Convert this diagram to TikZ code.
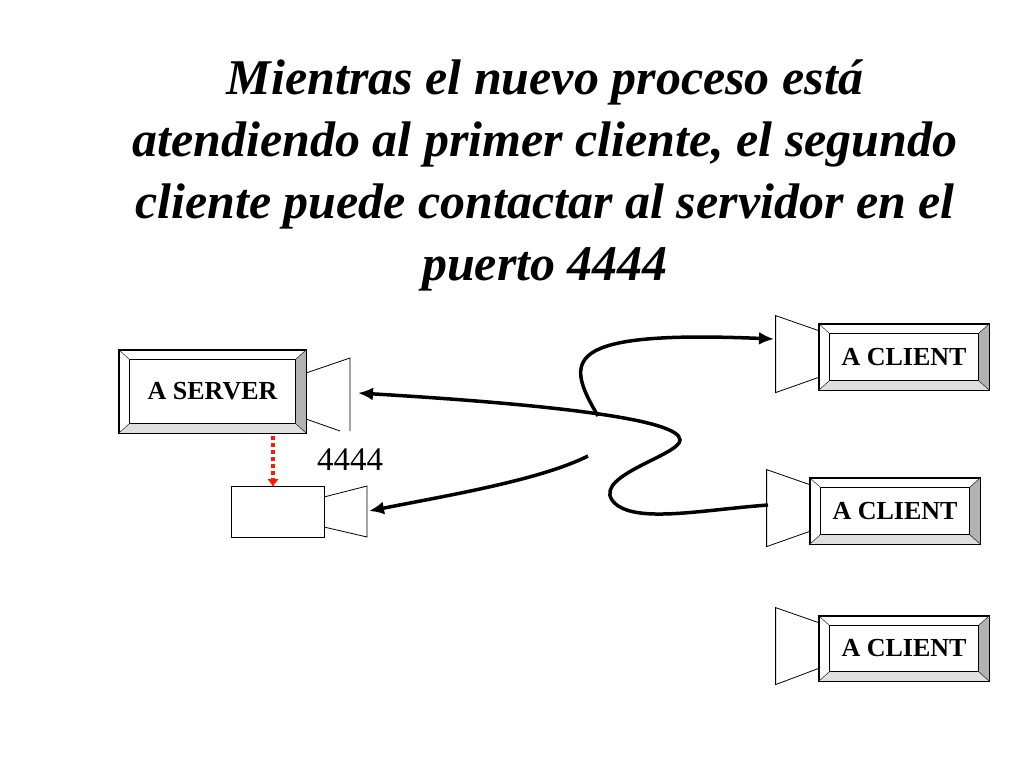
\documentclass[tikz,border=0pt]{standalone}
\usepackage{fontspec}
\setmainfont{Liberation Serif}
\usetikzlibrary{positioning,arrows.meta}
\tikzset{
  btn/.style={draw, thick, minimum width=170pt, minimum height=66pt, inner sep=0pt},
  btnfont/.style={font=\bfseries\fontsize{26}{30}\selectfont},
  wire/.style={line width=3.5pt, -{Latex[length=15pt,width=13pt]}},
}
% bevelled button: #1 name, #2 text, #3 centre, #4 width, #5 height
\newcommand{\bevelbox}[5]{
  \node[btn, minimum width=#4pt, minimum height=#5pt] (#1) at (#3) {};
  \fill[gray!60] (#1.south west) -- (#1.south east) -- (#1.north east)
     -- ([xshift=-11pt,yshift=-10pt]#1.north east) -- ([xshift=-11pt,yshift=10pt]#1.south east)
     -- ([xshift=11pt,yshift=10pt]#1.south west) -- cycle;
  \fill[gray!25] (#1.south west) -- (#1.south east) -- ([xshift=-11pt,yshift=10pt]#1.south east)
     -- ([xshift=11pt,yshift=10pt]#1.south west) -- cycle;
  \draw[thick] (#1.south west) rectangle (#1.north east);
  \draw ([xshift=11pt,yshift=10pt]#1.south west) rectangle ([xshift=-11pt,yshift=-10pt]#1.north east);
  \foreach \a/\b in {south west/11pt,north east/-11pt}
    \draw (#1.\a) -- ++(\b,\b*10/11);
  \draw (#1.north west) -- ++(11pt,-10pt) (#1.south east) -- ++(-11pt,10pt);
  \node[btnfont] at (#1) {#2};
}
\begin{document}
\begin{tikzpicture}[x=1pt,y=-1pt]
\useasboundingbox (0,0) rectangle (1024,768);

\node[align=center, font=\bfseries\itshape\fontsize{50}{62}\selectfont] (title) at (545,175)
  {Mientras el nuevo proceso está\\atendiendo al primer cliente, el segundo\\cliente puede contactar al servidor en el\\puerto 4444};

% server and its funnel
\bevelbox{server}{A SERVER}{212.5,391.5}{187}{83}
\draw[thick] (306,373) -- (350,358) -- (350,431) (306,419) -- (340,431);
\coordinate (srvport) at (358,393);

% new process
\node[draw, thick, minimum width=93pt, minimum height=51pt, inner sep=0pt] (child) at (277.5,511.5) {};
\draw[thick] (324,497) -- (367,486) -- (367,537) -- (324,527);
\coordinate (childport) at (369,511);
\draw[red!80!orange, line width=4pt, dash pattern=on 4pt off 3pt, -{Latex[length=8pt,width=12pt]}] (273,436) -- (273,487);
\node[font=\fontsize{33}{36}\selectfont] (port) at (350,460) {4444};

% clients
\bevelbox{clientA}{A CLIENT}{904,357}{170}{66}
\bevelbox{clientB}{A CLIENT}{895,511}{170}{66}
\bevelbox{clientC}{A CLIENT}{904,648.5}{170}{65}
\foreach \c in {clientA,clientB,clientC}
  \draw[thick] ([yshift=-7pt]\c.north west) -- ++(-43,-15) -- ++(0,77) -- ([yshift=13pt]\c.south west);
\coordinate (portA) at (774,339);
\coordinate (portB) at (768,505);
\coordinate (jA) at (598,416);
\coordinate (jC) at (588,456);

% connections
\draw[wire] (jA) .. controls (565,360) and (560,330) .. (portA);
\draw[wire] (portB) .. controls (700,510) and (630,525) .. (612,500)
   .. controls (595,475) and (680,455) .. (680,440)
   .. controls (680,420) and (560,405) .. (srvport);
\draw[wire] (jC) .. controls (540,480) and (450,495) .. (childport);
\end{tikzpicture}
\end{document}
